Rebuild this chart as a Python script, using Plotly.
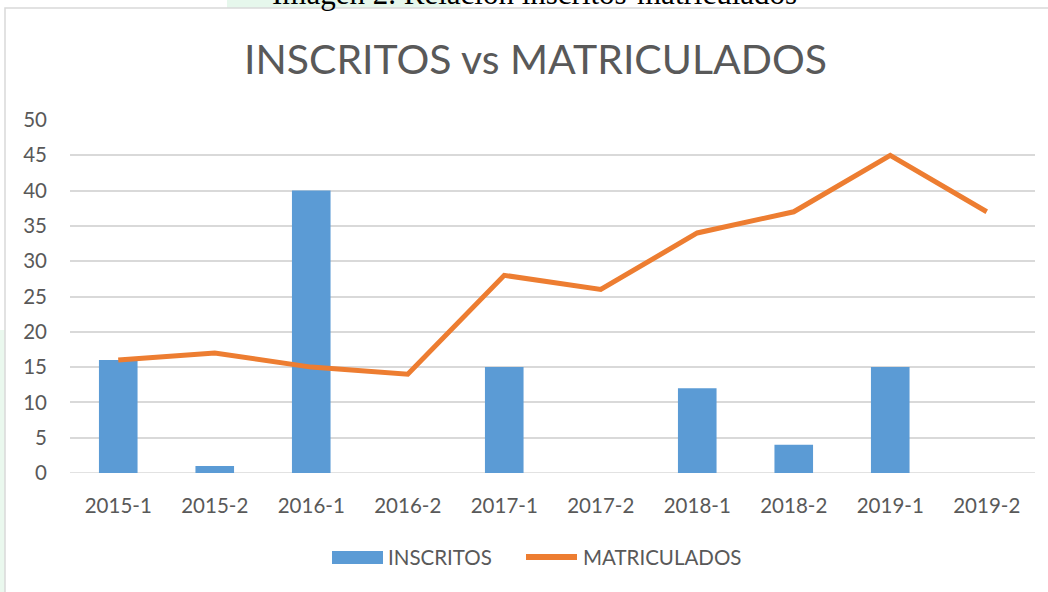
import plotly.graph_objects as go

categories = ["2015-1", "2015-2", "2016-1", "2016-2", "2017-1",
              "2017-2", "2018-1", "2018-2", "2019-1", "2019-2"]
inscritos = [16, 1, 40, 0, 15, 0, 12, 4, 15, 0]
matriculados = [16, 17, 15, 14, 28, 26, 34, 37, 45, 37]
y_ticks = [0, 5, 10, 15, 20, 25, 30, 35, 40, 45, 50]
series_names = ["INSCRITOS", "MATRICULADOS"]
bar_color = "#5b9bd5"
line_color = "#ed7d31"

W, H = 1048, 592
L, R, T, B = 70, 13, 120, 119
pw, ph = W - L - R, H - T - B


def px(x):
    return (x - L) / pw


def py(y):
    return (H - B - y) / ph


fig = go.Figure()
fig.add_trace(go.Bar(
    x=categories, y=inscritos, name=series_names[0],
    marker=dict(color=bar_color, line=dict(width=0)),
    width=0.4,
))
fig.add_trace(go.Scatter(
    x=categories, y=matriculados, name=series_names[1],
    mode="lines", line=dict(color=line_color, width=5),
))

font = "Lato, 'Open Sans', sans-serif"
txt = "#595959"
fig.update_layout(
    width=W, height=H,
    margin=dict(l=L, r=R, t=T, b=B, autoexpand=False),
    paper_bgcolor="white", plot_bgcolor="white",
    showlegend=False,
    xaxis=dict(type="category", showgrid=False, showline=False, ticks="",
               tickfont=dict(family=font, size=20.5, color=txt),
               ticklabelstandoff=18),
    yaxis=dict(range=[0, 50], tickvals=y_ticks, showgrid=True, gridcolor="#d9d9d9",
               gridwidth=1.5, zeroline=False, showline=False, ticks="",
               tickfont=dict(family=font, size=20.5, color=txt),
               ticklabelstandoff=22),
    shapes=[
        dict(type="rect", xref="paper", yref="paper",
             x0=px(227), x1=px(461), y0=py(8), y1=py(-5),
             fillcolor="#e6f7ec", line=dict(width=0), layer="below"),
        dict(type="rect", xref="paper", yref="paper",
             x0=px(-2), x1=px(5), y0=py(600), y1=py(330),
             fillcolor="#eaf8ee", line=dict(width=0), layer="below"),
        dict(type="rect", xref="paper", yref="paper",
             x0=px(5), x1=px(1056), y0=py(600), y1=py(8),
             line=dict(color="#d9d9d9", width=1.5), fillcolor="rgba(0,0,0,0)"),
        # legend symbols
        dict(type="rect", xref="paper", yref="paper",
             x0=px(332), x1=px(383), y0=py(564), y1=py(551),
             fillcolor=bar_color, line=dict(width=0)),
        dict(type="line", xref="paper", yref="paper",
             x0=px(526), x1=px(577), y0=py(557), y1=py(557),
             line=dict(color=line_color, width=6)),
    ],
    annotations=[
        dict(text="INSCRITOS vs MATRICULADOS", xref="paper", yref="paper",
             x=px(535), y=py(59), xanchor="center", yanchor="middle", showarrow=False,
             font=dict(family=font, size=41, color=txt)),
        dict(text="Imagen 2. Relación inscritos-matriculados", xref="paper", yref="paper",
             x=px(534), y=py(-6.5), xanchor="center", yanchor="middle", showarrow=False,
             font=dict(family="'Liberation Serif', serif", size=31, color="black")),
        dict(text=series_names[0], xref="paper", yref="paper",
             x=px(386), y=py(557), xanchor="left", yanchor="middle", showarrow=False,
             font=dict(family=font, size=20.5, color=txt)),
        dict(text=series_names[1], xref="paper", yref="paper",
             x=px(581), y=py(557), xanchor="left", yanchor="middle", showarrow=False,
             font=dict(family=font, size=20.5, color=txt)),
    ],
)
fig.add_shape(type="line", xref="paper", yref="y", x0=0, x1=1, y0=0, y1=0,
              line=dict(color="#d9d9d9", width=1.5), layer="below")

fig.write_html("out.html", config={"displayModeBar": False},
               post_script="document.body.style.margin='0';")
